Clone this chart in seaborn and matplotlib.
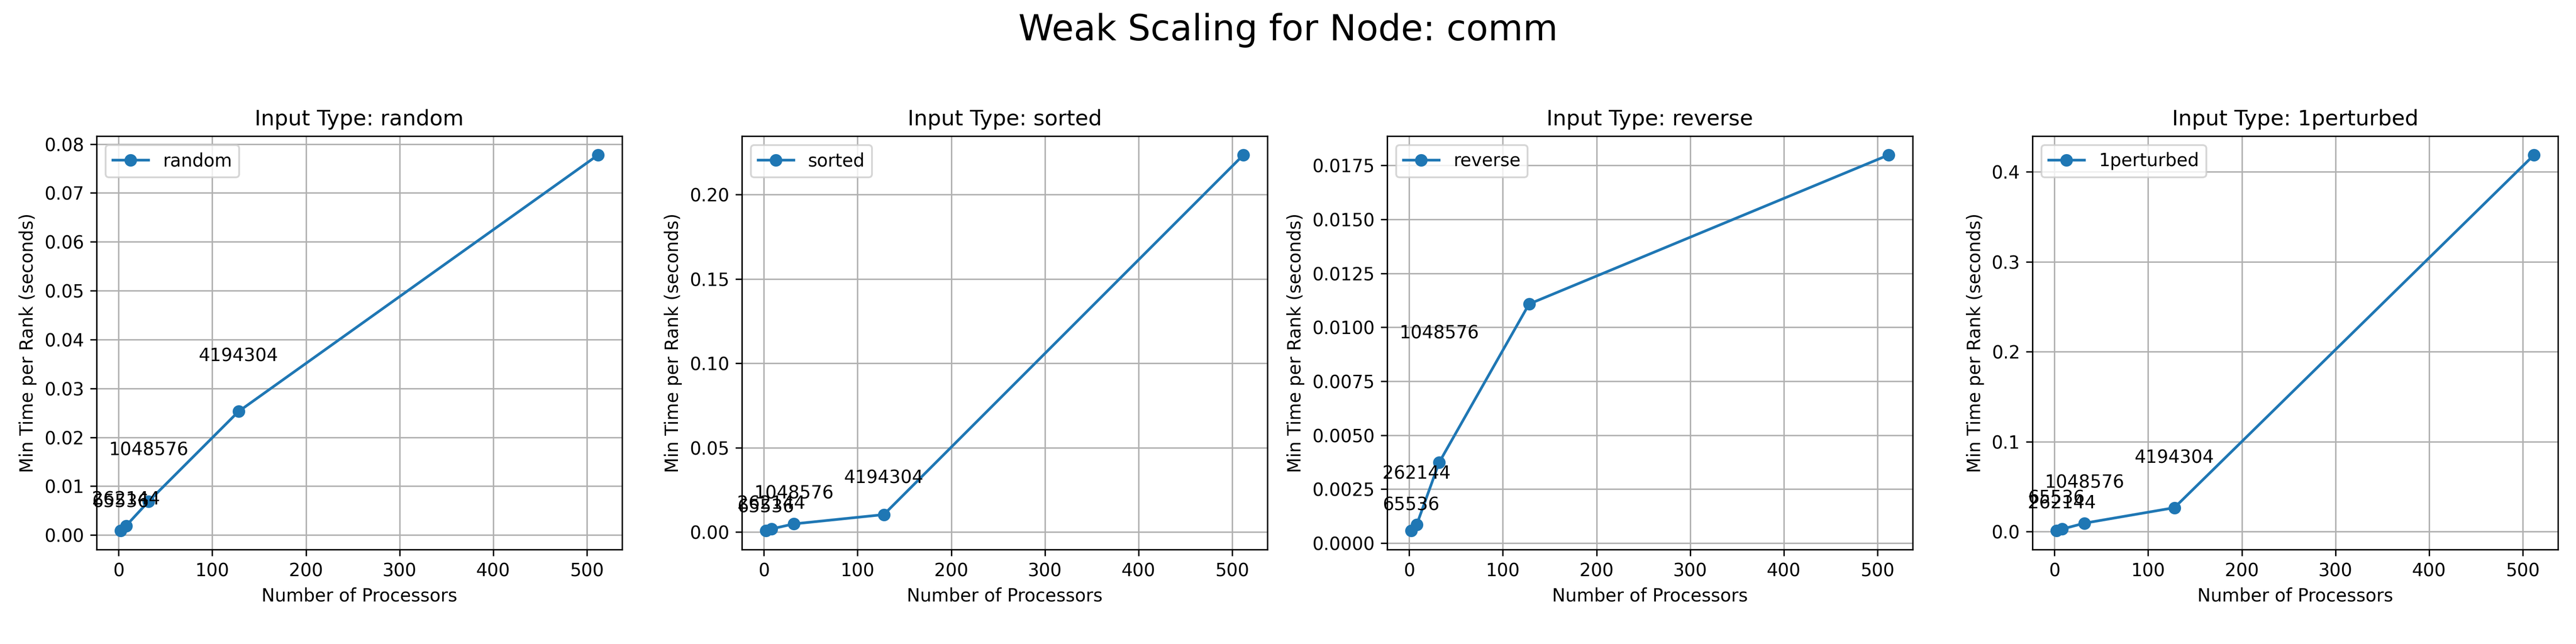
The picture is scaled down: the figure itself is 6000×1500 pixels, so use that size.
import numpy as np
import pandas as pd
import matplotlib
matplotlib.use("Agg")
import matplotlib.pyplot as plt
import seaborn as sns

# so luong processor (truc x) dung chung cho ca 4 input type
procs = [2, 8, 32, 128, 512]
input_types = ["random", "sorted", "reverse", "1perturbed"]

# min time per rank (s), doc tu hinh
time_random = [0.00088, 0.0019, 0.00688, 0.02528, 0.0778]
time_sorted = [0.00084, 0.0019, 0.0049, 0.0104, 0.2236]
time_reverse = [0.000575, 0.000854, 0.00374, 0.01108, 0.01799]
time_1perturbed = [0.0011, 0.0029, 0.0095, 0.0267, 0.4187]

# nhan kich thuoc bai toan: vi tri x va y (baseline) cua chu
size_labels = ["65536", "262144", "1048576", "4194304"]
label_x = [2, 8, 32, 128]
label_y_random = [0.00565, 0.00624, 0.01634, 0.03553]
label_y_sorted = [0.0117, 0.0138, 0.01973, 0.02906]
label_y_reverse = [0.001517, 0.002968, 0.009485]
label_y_1perturbed = [0.0317, 0.0259, 0.0487, 0.0762]

times = {
    "random": time_random,
    "sorted": time_sorted,
    "reverse": time_reverse,
    "1perturbed": time_1perturbed,
}
label_ys = {
    "random": label_y_random,
    "sorted": label_y_sorted,
    "reverse": label_y_reverse,
    "1perturbed": label_y_1perturbed,
}

color = "#1f77b4"

fig, axes = plt.subplots(1, 4, figsize=(20, 5), dpi=300)
fig.subplots_adjust(left=0.0375, right=0.993, bottom=0.1467, top=0.7887, wspace=0.228)

for ax, it in zip(axes, input_types):
    df = pd.DataFrame({"procs": procs, "time": times[it]})
    sns.lineplot(data=df, x="procs", y="time", marker="o", color=color,
                 markersize=6, markeredgecolor=color, markeredgewidth=1,
                 linewidth=1.5, label=it, ax=ax)
    # ghi kich thuoc bai toan len tung diem
    for txt, lx, ly in zip(size_labels, label_x, label_ys[it]):
        ax.text(lx, ly, txt, ha="center", va="baseline", fontsize=10)
    ax.set_title(f"Input Type: {it}", fontsize=12)
    ax.set_xlabel("Number of Processors", fontsize=10)
    ax.set_ylabel("Min Time per Rank (seconds)", fontsize=10)
    ax.grid(True)
    ax.legend(loc="upper left", fontsize=10)

fig.suptitle("Weak Scaling for Node: comm", fontsize=20)
fig.savefig("out.png", dpi=300)
